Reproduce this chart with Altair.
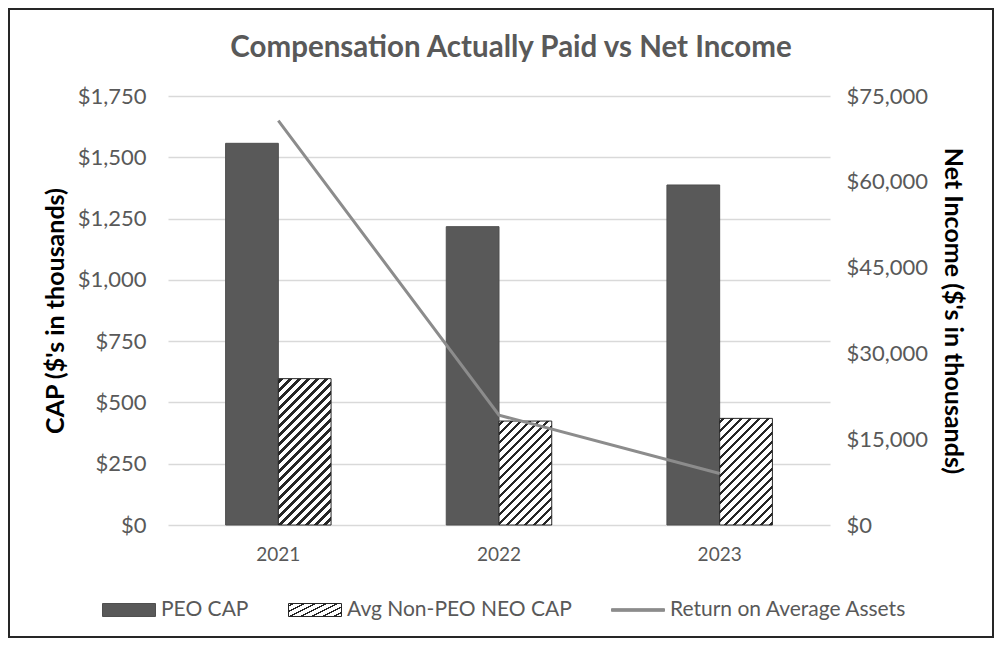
import json
import altair as alt
import pandas as pd

# ---------------- data ----------------
years = ["2021", "2022", "2023"]
peo_cap = [1557, 1217, 1387]          # PEO CAP ($ thousands)
non_peo_cap = [597, 424, 435]         # Avg Non-PEO NEO CAP ($ thousands)
net_income = [70700, 19200, 9000]     # Net income ($ thousands), right axis
series_names = ["PEO CAP", "Avg Non-PEO NEO CAP", "Return on Average Assets"]
left_ticks = [0, 250, 500, 750, 1000, 1250, 1500, 1750]
right_ticks = [0, 15000, 30000, 45000, 60000, 75000]

# ---------------- layout / style ----------------
W, H = 662, 429
PAD = {"left": 160, "top": 88, "right": 165, "bottom": 114}
TOTAL_W = PAD["left"] + W + PAD["right"]
TOTAL_H = PAD["top"] + H + PAD["bottom"]
L_MAX, R_MAX = 1750, 75000
P_INNER, P_OUTER = 0.522, 0.261
FONT = "Lato"
PEO_COLOR = "#595959"
HATCH_INK = "#262626"
LINE_COLOR = "#8c8c8c"
LABEL_COLOR = "#595959"


def hatch(w, h, period=9.0, dark=3.4, ink=HATCH_INK, phase=2.0):
    """Diagonal '/' hatch as a sharp-stop linear gradient in bbox units."""
    L = w + h
    stops = [{"offset": 0, "color": "#ffffff"}]
    pos = phase
    while pos < L:
        a = round(pos / L, 5)
        b = round(min((pos + dark) / L, 1.0), 5)
        stops += [
            {"offset": a, "color": "#ffffff"},
            {"offset": a, "color": ink},
            {"offset": b, "color": ink},
            {"offset": b, "color": "#ffffff"},
        ]
        pos += period
    stops.append({"offset": 1, "color": "#ffffff"})
    s = L / (w * w + h * h)
    return {"gradient": "linear", "x1": 0, "y1": 0,
            "x2": round(w * s, 5), "y2": round(h * s, 5), "stops": stops}


step = W / (len(years) - P_INNER + 2 * P_OUTER)
bar_w = step * (1 - P_INNER) / 2

fill_conditions = [{"test": "datum.series === 'PEO CAP'", "value": PEO_COLOR}]
for y, v in zip(years, non_peo_cap):
    fill_conditions.append({"test": f"datum.year === '{y}'",
                            "value": hatch(bar_w, v / L_MAX * H)})

# legend swatch geometry
SYM = 53
rect_path = "M-1,-0.245H1V0.245H-1Z"
line_path = "M-1,-0.05H1V0.05H-1Z"
legend_hatch = hatch(SYM, SYM * 0.245 * 2, period=11.0, dark=3.0, phase=3.0)
legend_hatch_expr = json.dumps(legend_hatch)

bars_df = pd.DataFrame({
    "year": years * 2,
    "series": [series_names[0]] * 3 + [series_names[1]] * 3,
    "value": peo_cap + non_peo_cap,
})
line_df = pd.DataFrame({"year": years, "value": net_income})
legend_df = pd.DataFrame({"series": series_names})

x_enc = alt.X(
    "year:N",
    sort=years,
    scale=alt.Scale(paddingInner=P_INNER, paddingOuter=P_OUTER),
    axis=alt.Axis(title=None, labelAngle=0, ticks=False, domain=False, grid=False,
                  labelPadding=20, labelFontSize=19, labelColor=LABEL_COLOR,
                  labelFont=FONT),
)

bars = alt.Chart(bars_df).mark_bar(strokeWidth=1).encode(
    x=x_enc,
    xOffset=alt.XOffset("series:N", sort=series_names[:2],
                        scale=alt.Scale(domain=series_names[:2], paddingInner=0, paddingOuter=0)),
    y=alt.Y("value:Q",
            scale=alt.Scale(domain=[0, L_MAX], nice=False, zero=True),
            axis=alt.Axis(values=left_ticks, format="$,.0f", title="CAP ($'s in thousands)",
                          titleFontSize=25, titleFontWeight="bold", titleColor="#000000",
                          titleFont=FONT, titlePadding=9,
                          labelFontSize=22, labelColor=LABEL_COLOR, labelFont=FONT,
                          labelPadding=22, ticks=False, domain=False, grid=True,
                          gridColor="#d9d9d9", gridWidth=1.5)),
    fill=alt.FillValue(value="#ffffff", condition=fill_conditions),
    stroke=alt.StrokeValue(value=HATCH_INK,
                           condition=[{"test": "datum.series === 'PEO CAP'", "value": "#4f4f4f"}]),
)

line = alt.Chart(line_df).mark_line(color=LINE_COLOR, strokeWidth=3).encode(
    x=x_enc,
    y=alt.Y("value:Q",
            scale=alt.Scale(domain=[0, R_MAX], nice=False, zero=True),
            axis=alt.Axis(values=right_ticks, format="$,.0f", orient="right",
                          title="Net Income ($'s in thousands)",
                          titleFontSize=25, titleFontWeight="bold", titleColor="#000000",
                          titleFont=FONT, titlePadding=12,
                          labelFontSize=22, labelColor=LABEL_COLOR, labelFont=FONT,
                          labelPadding=16, ticks=False, domain=False, grid=False)),
)

legend_props = dict(
    orient="none", legendX=-66, legendY=487, direction="horizontal", title=None,
    symbolSize=SYM * SYM, symbolStrokeWidth=1, labelFont=FONT, labelFontSize=21,
    labelColor=LABEL_COLOR, labelOffset=5, columnPadding=37, labelLimit=400,
)

legend_layer = alt.Chart(legend_df).mark_point(filled=True, opacity=1, strokeWidth=1).encode(
    fill=alt.Fill("series:N", sort=series_names,
                  scale=alt.Scale(domain=series_names,
                                  range=[PEO_COLOR, {"expr": legend_hatch_expr}, LINE_COLOR]),
                  legend=alt.Legend(**legend_props)),
    stroke=alt.Stroke("series:N", sort=series_names,
                      scale=alt.Scale(domain=series_names,
                                      range=["#4f4f4f", HATCH_INK, LINE_COLOR]),
                      legend=alt.Legend(**legend_props)),
    shape=alt.Shape("series:N", sort=series_names,
                    scale=alt.Scale(domain=series_names,
                                    range=[rect_path, rect_path, line_path]),
                    legend=alt.Legend(**legend_props)),
).transform_filter("false")

frame = alt.Chart(alt.Data(values=[{"f": 1}])).mark_rect(
    filled=False, stroke="#262626", strokeWidth=2
).encode(
    x=alt.value(1 - PAD["left"]),
    x2=alt.value(TOTAL_W - 2 - PAD["left"]),
    y=alt.value(1 - PAD["top"]),
    y2=alt.value(TOTAL_H - 2 - PAD["top"]),
)

chart = alt.layer(frame, bars, line, legend_layer).resolve_scale(
    y="independent"
).properties(
    width=W,
    height=H,
    padding=PAD,
    autosize=alt.AutoSizeParams(type="none"),
    background="#ffffff",
    title=alt.TitleParams(
        "Compensation Actually Paid vs Net Income",
        font=FONT, fontSize=29.5, fontWeight="bold", color="#595959",
        anchor="middle", dx=12, offset=0, baseline="bottom", dy=84,
    ),
).configure_view(stroke=None)

chart.save("out.html", embed_options={"renderer": "svg", "actions": False})
